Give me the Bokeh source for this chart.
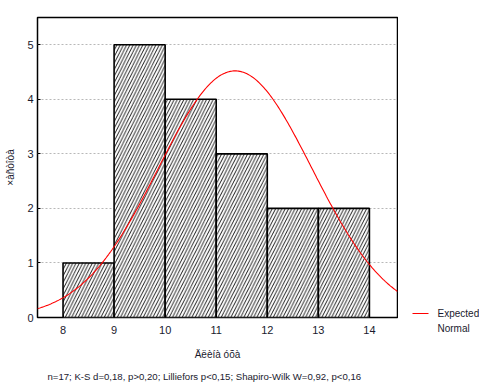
import numpy as np
from bokeh.plotting import figure
from bokeh.layouts import row
from bokeh.models import Range1d, FixedTicker, Title
from bokeh.core.properties import value
from bokeh.embed import file_html
from bokeh.resources import INLINE

# Histogram data
bin_left = [8, 9, 10, 11, 12, 13]
bin_right = [9, 10, 11, 12, 13, 14]
counts = [1, 5, 4, 3, 2, 2]

# Expected normal parameters (as fitted in the chart)
n_obs = 17
fit_mean = 11.37
fit_sd = 1.5
bin_width = 1.0

x_ticks = [8, 9, 10, 11, 12, 13, 14]
y_ticks = [0, 1, 2, 3, 4, 5]

x_label = "Äëèíà óõà"
y_label = "×àñòîòà"
stats_text = "n=17; K-S d=0,18, p>0,20; Lilliefors p<0,15; Shapiro-Wilk W=0,92, p<0,16"
legend_lines = ["Expected", "Normal"]

FONT = "Liberation Sans"
TXT = "#1a1a2e"
H = 371

p = figure(frame_width=360, frame_height=300, output_backend="svg", toolbar_location=None,
           x_range=Range1d(7.5, 14.55), y_range=Range1d(0, 5.5),
           min_border_left=37, min_border_top=17, min_border_right=1, min_border_bottom=70)
p.background_fill_color = "white"
p.border_fill_color = "white"
p.outline_line_color = "black"
p.outline_line_width = 1.5

p.quad(left=bin_left, right=bin_right, bottom=0, top=counts,
       fill_color="white", line_color="black", line_width=1.6,
       hatch_pattern="right_diagonal_line", hatch_color="black", hatch_scale=6.5, hatch_weight=0.9)

xs = np.linspace(7.5, 14.55, 300)
ys = n_obs * bin_width / (fit_sd * np.sqrt(2 * np.pi)) * np.exp(-0.5 * ((xs - fit_mean) / fit_sd) ** 2)
p.line(xs, ys, line_color="red", line_width=1.1)

p.xgrid.grid_line_color = None
p.ygrid.grid_line_color = "#b8b8b8"
p.ygrid.grid_line_dash = "2 2"
p.ygrid.grid_line_width = 1

for ax in (p.xaxis[0], p.yaxis[0]):
    ax.axis_line_color = None
    ax.major_tick_line_color = "black"
    ax.major_tick_in = 3
    ax.major_tick_out = 0
    ax.minor_tick_line_color = None
    ax.major_label_text_font = FONT
    ax.major_label_text_font_size = "11px"
    ax.major_label_text_color = TXT
    ax.axis_label_text_font = FONT
    ax.axis_label_text_font_size = "10px"
    ax.axis_label_text_font_style = "normal"
    ax.axis_label_text_color = TXT

p.xaxis.ticker = FixedTicker(ticks=x_ticks)
p.yaxis.ticker = FixedTicker(ticks=y_ticks)
p.xaxis.axis_label = x_label
p.yaxis.axis_label = y_label
p.xaxis.major_label_standoff = 8
p.xaxis.axis_label_standoff = 12
p.yaxis.major_label_standoff = 4
p.yaxis.axis_label_standoff = 8

t = Title(text=stats_text, align="left", text_font=FONT, text_font_size="9.6px",
          text_font_style="normal", text_color=TXT, standoff=13, offset=10)
p.add_layout(t, "below")

# Legend panel to the right of the plot frame (pixel coordinates, y from frame top)
p2 = figure(frame_width=81, frame_height=H, output_backend="svg", toolbar_location=None,
            x_range=Range1d(0, 81), y_range=Range1d(H, 0),
            x_axis_location=None, y_axis_location=None,
            min_border_left=0, min_border_right=0, min_border_top=0, min_border_bottom=0)
p2.grid.visible = False
p2.outline_line_color = None
p2.background_fill_color = "white"
p2.border_fill_color = "white"
p2.line(x=[14, 30], y=[296, 296], line_color="red", line_width=1.1)
p2.text(x=[39, 39], y=[296, 311], text=legend_lines, text_font=value(FONT),
        text_font_size="10px", text_color=TXT, text_baseline="middle", text_align="left")

layout = row(p, p2, spacing=0)
open("out.html", "w").write(file_html(layout, INLINE))
